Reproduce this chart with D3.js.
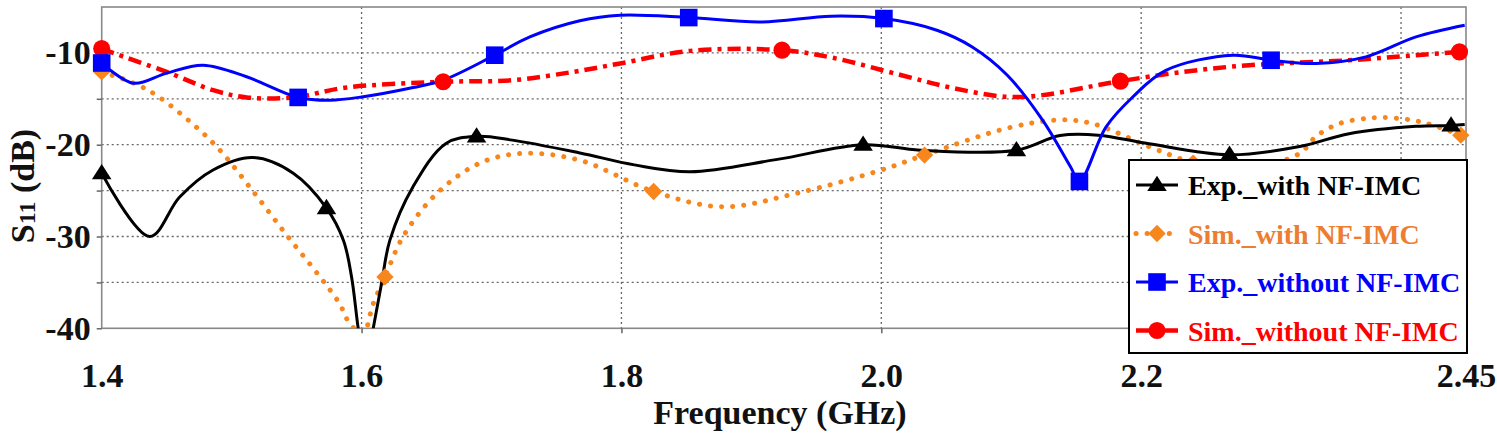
<!DOCTYPE html>
<html><head><meta charset="utf-8">
<script src="https://cdn.jsdelivr.net/npm/d3@7"></script>
</head><body style="margin:0;background:#fff">
<svg id="c" width="1497" height="448"></svg>
<script>
// ---- data (frequency GHz, S11 dB) ----
const xTickValues=[1.4,1.6,1.8,2.0,2.2,2.45];
const xTickLabels=["1.4","1.6","1.8","2.0","2.2","2.45"];
const xGridValues=[1.6,1.8,2.0,2.2,2.4];
const yTickValues=[-10,-15,-20,-25,-30,-35,-40];
const yLabelValues=[-10,-20,-30,-40];
const yGridValues=[-10,-15,-20,-25,-30,-35];

const seriesNames=["Exp._with NF-IMC","Sim._with NF-IMC","Exp._without NF-IMC","Sim._without NF-IMC"];

const expWith=[[1.4,-23.1],[1.437,-30.0],[1.46,-25.7],[1.4857,-22.76],[1.5164,-21.4],[1.5474,-23.1],[1.573,-26.9],[1.586,-30.4],[1.5923,-34.4],[1.5974,-40.0],[1.603,-45],[1.609,-40.0],[1.6154,-35.1],[1.6218,-30.4],[1.6395,-24.6],[1.665,-19.86],[1.6885,-19.1],[1.716,-19.5],[1.768,-20.9],[1.81,-22.2],[1.853,-22.95],[1.92,-21.6],[1.986,-20.0],[2.03,-20.6],[2.104,-20.6],[2.1376,-19.0],[2.167,-18.96],[2.206,-19.9],[2.268,-21.1],[2.322,-20.2],[2.36,-18.8],[2.4115,-18.0],[2.4385,-17.9],[2.449,-17.8]];
const expWithMarkers=[[1.4,-23.1],[1.573,-26.9],[1.6885,-19.1],[1.986,-20.0],[2.104,-20.6],[2.268,-21.1],[2.4385,-17.9]];

const simWith=[[1.4,-12.07],[1.424,-13.26],[1.442,-14.6],[1.472,-17.98],[1.491,-20.6],[1.5166,-25.1],[1.5423,-29.84],[1.568,-34.4],[1.583,-37.3],[1.591,-39.5],[1.601,-40.6],[1.609,-37.3],[1.618,-34.4],[1.632,-30.0],[1.658,-25.3],[1.691,-22.0],[1.724,-20.95],[1.768,-21.7],[1.8248,-25.1],[1.8775,-26.76],[1.9345,-25.3],[2.0,-22.76],[2.0333,-21.13],[2.097,-18.2],[2.1376,-17.3],[2.1625,-17.7],[2.206,-20.2],[2.24,-22.0],[2.27,-23.0],[2.322,-20.95],[2.3346,-19.1],[2.3525,-17.7],[2.373,-17.14],[2.386,-17.03],[2.3987,-17.14],[2.4115,-17.4],[2.4243,-17.87],[2.446,-18.96]];
const simWithMarkers=[[1.4,-12.07],[1.618,-34.4],[1.8248,-25.1],[2.0333,-21.13],[2.24,-22.0],[2.446,-18.96]];

const expWithout=[[1.4,-11.1],[1.4243,-13.3],[1.45,-12.2],[1.478,-11.34],[1.5115,-12.6],[1.5512,-14.85],[1.5756,-15.15],[1.6,-14.8],[1.6397,-13.77],[1.6628,-12.97],[1.7025,-10.25],[1.7295,-8.26],[1.768,-6.5],[1.799,-5.9],[1.8518,-6.15],[1.907,-6.63],[1.9615,-6.0],[2.002,-6.26],[2.0428,-7.53],[2.07,-9.35],[2.097,-12.43],[2.124,-17.3],[2.1456,-22.4],[2.1525,-24.0],[2.173,-18.05],[2.1935,-14.8],[2.219,-11.9],[2.2705,-10.25],[2.3,-10.8],[2.3346,-11.15],[2.373,-10.43],[2.4115,-8.26],[2.449,-6.99]];
const expWithoutMarkers=[[1.4,-11.1],[1.5512,-14.85],[1.7025,-10.25],[1.8518,-6.15],[2.002,-6.26],[2.1525,-24.0],[2.3,-10.8]];

const simWithout=[[1.4,-9.52],[1.4087,-10.0],[1.45,-12.07],[1.4858,-14.06],[1.5115,-14.85],[1.5474,-14.85],[1.5885,-13.77],[1.6628,-13.15],[1.7166,-12.97],[1.7628,-12.07],[1.799,-11.15],[1.853,-9.78],[1.9236,-9.7],[1.9615,-10.5],[2.0156,-12.43],[2.0564,-13.87],[2.097,-14.79],[2.124,-14.6],[2.167,-13.5],[2.184,-13.08],[2.232,-12.07],[2.283,-11.34],[2.36,-10.8],[2.4115,-10.25],[2.445,-9.89]];
const simWithoutMarkers=[[1.4,-9.52],[1.6628,-13.15],[1.9236,-9.7],[2.184,-13.08],[2.445,-9.89]];

// ---- chart ----
const FONT='"Liberation Serif"';
function serif(sel,size){ sel.style("font-family",FONT).style("font-weight","bold").style("font-size",size+"px"); return sel; }
const svg=d3.select("#c");
const x=d3.scaleLinear().domain([1.4,2.45]).range([101.7,1466]);
const y=d3.scaleLinear().domain([-40,-5]).range([328.3,7]);

svg.append("defs").append("clipPath").attr("id","plotclip").append("rect")
  .attr("x",x(1.4)).attr("y",y(-5)).attr("width",x(2.45)-x(1.4)).attr("height",y(-40)-y(-5));

// grid
svg.append("g").selectAll("line").data(yGridValues).join("line")
  .attr("x1",x(1.4)).attr("x2",x(2.45)).attr("y1",d=>y(d)).attr("y2",d=>y(d))
  .attr("stroke","#666").attr("stroke-width",1.3).attr("stroke-dasharray","2,3");
svg.append("g").selectAll("line").data(xGridValues).join("line")
  .attr("y1",y(-5)).attr("y2",y(-40)).attr("x1",d=>x(d)).attr("x2",d=>x(d))
  .attr("stroke","#666").attr("stroke-width",1.3).attr("stroke-dasharray","2,3");

// frame
svg.append("rect").attr("x",x(1.4)).attr("y",y(-5)).attr("width",x(2.45)-x(1.4)).attr("height",y(-40)-y(-5))
  .attr("fill","none").attr("stroke","#888").attr("stroke-width",1.6);

// axes
const yAx=svg.append("g").attr("transform",`translate(${x(1.4)},0)`)
  .call(d3.axisLeft(y).tickValues(yTickValues).tickSize(5).tickSizeOuter(0).tickPadding(6)
    .tickFormat(d=>yLabelValues.includes(d)?String(d):""));
yAx.select(".domain").remove();
yAx.selectAll("line").attr("stroke","#666").attr("stroke-width",1.5);
serif(yAx.selectAll("text"),34).attr("fill","#111");

const xAx=svg.append("g").attr("transform",`translate(0,${y(-40)})`)
  .call(d3.axisBottom(x).tickValues(xGridValues).tickSize(5).tickSizeOuter(0).tickFormat(""));
xAx.select(".domain").remove();
xAx.selectAll("line").attr("stroke","#666").attr("stroke-width",1.5);

const xLab=svg.append("g").attr("transform",`translate(0,${y(-40)})`)
  .call(d3.axisBottom(x).tickValues(xTickValues).tickSize(0).tickPadding(34.7)
    .tickFormat((d,i)=>xTickLabels[i]));
xLab.select(".domain").remove();
serif(xLab.selectAll("text"),34).attr("fill","#111");

// axis titles
serif(svg.append("text"),34).attr("x",780).attr("y",424).attr("text-anchor","middle")
  .attr("fill","#111").text("Frequency (GHz)");
const yt=serif(svg.append("text"),34).attr("transform","translate(34,186) rotate(-90)").attr("text-anchor","middle")
  .attr("fill","#111");
yt.append("tspan").text("S");
yt.append("tspan").style("font-size","24px").attr("dy",1).text("11");
yt.append("tspan").attr("dy",-1).text(" (dB)");

// lines
const line=d3.line().x(d=>x(d[0])).y(d=>y(d[1])).curve(d3.curveCatmullRom.alpha(0.5));
const styles=[
  {data:expWith,markers:expWithMarkers,color:"#000",width:3,dash:null,cap:"butt",sym:"tri",text:"#000"},
  {data:simWith,markers:simWithMarkers,color:"#f7861c",width:5,dash:"0.1,11",cap:"round",sym:"dia",text:"#ed7d31"},
  {data:expWithout,markers:expWithoutMarkers,color:"#0000ff",width:3,dash:null,cap:"butt",sym:"sq",text:"#0000ff"},
  {data:simWithout,markers:simWithoutMarkers,color:"#ff0000",width:4.5,dash:"13,6,4,6",cap:"butt",sym:"circ",text:"#ff0000"}
];
const drawOrder=[1,0,3,2];
const lg=svg.append("g").attr("clip-path","url(#plotclip)");
drawOrder.forEach(i=>{
  const s=styles[i];
  lg.append("path").attr("d",line(s.data)).attr("fill","none").attr("stroke",s.color)
    .attr("stroke-width",s.width).attr("stroke-linecap",s.cap).attr("stroke-linejoin","round")
    .attr("stroke-dasharray",s.dash);
});

function symPath(sym){
  if(sym==="tri") return d3.symbol(d3.symbolTriangle,150)();
  if(sym==="dia") return d3.symbol(d3.symbolSquare,150)();
  if(sym==="sq") return d3.symbol(d3.symbolSquare,310)();
  return d3.symbol(d3.symbolCircle,230)();
}
function symTransform(sym,px,py){
  if(sym==="tri") return `translate(${px},${py+1}) scale(1.05,0.95)`;
  if(sym==="dia") return `translate(${px},${py}) rotate(45)`;
  return `translate(${px},${py})`;
}
drawOrder.forEach(i=>{
  const s=styles[i];
  svg.append("g").selectAll("path").data(s.markers).join("path")
    .attr("d",symPath(s.sym)).attr("fill",s.color)
    .attr("transform",d=>symTransform(s.sym,x(d[0]),y(d[1])));
});

// legend
const leg=svg.append("g");
leg.append("rect").attr("x",1129).attr("y",160).attr("width",338).attr("height",193)
  .attr("fill","#fff").attr("stroke","#000").attr("stroke-width",2);
const rowBase=[195,243.5,292,340.5];
styles.forEach((s,i)=>{
  const cy=rowBase[i]-10;
  leg.append("line").attr("x1",1136).attr("x2",1178).attr("y1",cy).attr("y2",cy)
    .attr("stroke",s.color).attr("stroke-width",s.width).attr("stroke-linecap",s.cap).attr("stroke-dasharray",s.dash);
  leg.append("path").attr("d",symPath(s.sym)).attr("fill",s.color).attr("transform",symTransform(s.sym,1157,cy));
  serif(leg.append("text"),28).attr("x",1188).attr("y",rowBase[i]).attr("fill",s.text).text(seriesNames[i]);
});
</script>
</body></html>
